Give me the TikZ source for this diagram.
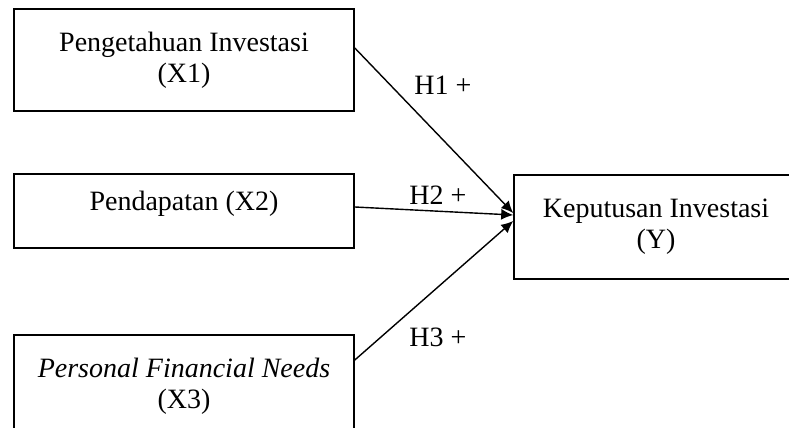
\documentclass[tikz,border=0pt]{standalone}
\usepackage{fontspec}
\setmainfont{Liberation Serif}
\usetikzlibrary{arrows.meta}
\tikzset{var/.style={draw, line width=0.8pt, align=center, inner sep=0pt,
    font=\fontsize{14}{15.5}\selectfont},
  hyp/.style={font=\fontsize{14}{15.5}\selectfont, inner sep=0pt},
  path/.style={->, line width=0.7pt}}

\begin{document}
\begin{tikzpicture}[x=0.5pt, y=-0.5pt, >={Latex[length=6pt,width=5.5pt]}]
  \useasboundingbox (0,0) rectangle (789,428);
  \clip (0,0) rectangle (789,428);
  \node[var, minimum width=170pt, minimum height=51pt] (x1) at (184,60) {Pengetahuan Investasi\\(X1)};
  \node[var, minimum width=170pt, minimum height=37pt, text height=8pt, text depth=9pt] (x2) at (184,211) {Pendapatan (X2)};
  \node[var, minimum width=170pt, minimum height=51pt] (x3) at (184,386) {\textit{Personal Financial Needs}\\(X3)};
  \node[var, minimum width=142pt, minimum height=52pt] (y) at (656,227) {Keputusan Investasi\\(Y)};
  % hypotheses
  \draw[path] ([yshift=6pt]x1.east) -- ([yshift=7pt]y.west);
  \draw[path] ([yshift=2pt]x2.east) -- ([yshift=6pt]y.west);
  \draw[path] ([yshift=13pt]x3.east) -- ([yshift=3pt]y.west);
  \node[hyp] (h1) at (443,85) {H1 +};
  \node[hyp] (h2) at (438,195) {H2 +};
  \node[hyp] (h3) at (438,337) {H3 +};
\end{tikzpicture}
\end{document}
